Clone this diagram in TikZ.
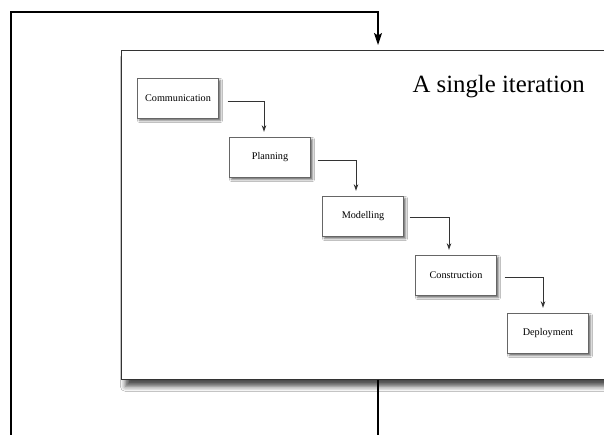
\documentclass[tikz,border=0pt]{standalone}
\usepackage{fontspec}
\setmainfont{Liberation Serif}
\usetikzlibrary{positioning,arrows.meta,shadows.blur}

\tikzset{
  phase/.style={draw=black!60,fill=white,minimum width=81pt,minimum height=40pt,inner sep=2pt,
    font=\fontsize{10.2}{12}\selectfont,
    blur shadow={shadow xshift=2pt,shadow yshift=-2.5pt,shadow blur radius=2pt,shadow opacity=60}},
  flow/.style={->,draw=black!80,line width=0.9pt,shorten >=5pt,>={Stealth[length=6.5pt,width=4.5pt]}},
  loopline/.style={->,line width=1.4pt,shorten >=5pt,>={Stealth[length=12pt,width=8pt,inset=2.5pt]}}
}

\begin{document}
\begin{tikzpicture}[x=1pt,y=-1pt]
\useasboundingbox (0,0) rectangle (604,434);
\clip (0,0) rectangle (604,434);
\fill[white] (0,0) rectangle (604,434);
% outer loop corners
\coordinate (looptop) at (378,12);
\coordinate (loopleft) at (11,445);
\coordinate (loopbot) at (378,445);
% the iteration frame
\node[draw=black!80,fill=white,line width=0.8pt,anchor=north west,minimum width=540pt,minimum height=329pt,
  blur shadow={shadow xshift=4pt,shadow yshift=-7pt,shadow blur radius=5pt,shadow opacity=70}] (iter) at (121,50) {};
\node[anchor=base west,font=\fontsize{24.8}{28}\selectfont] (title) at (409,92) {A single iteration};
% phases
\node[phase] (comm) at (178,98) {Communication};
\node[phase] (plan) at (270,157) {Planning};
\node[phase] (model) at (363,216) {Modelling};
\node[phase] (constr) at (456,275) {Construction};
\node[phase] (deploy) at (548,333) {Deployment};
\draw[flow] ([xshift=9pt,yshift=-3pt]comm.east) -| ([xshift=-6pt]plan.north);
\draw[flow] ([xshift=7pt,yshift=-3pt]plan.east) -| ([xshift=-7pt]model.north);
\draw[flow] ([xshift=6pt,yshift=-1pt]model.east) -| ([xshift=-7pt]constr.north);
\draw[flow] ([xshift=8pt,yshift=-2pt]constr.east) -| ([xshift=-5pt]deploy.north);
% back round to the next iteration
\draw[loopline] (iter.south -| loopbot) -- (loopbot) -- (loopleft) |- (looptop) -- (iter.north -| looptop);
\end{tikzpicture}
\end{document}
